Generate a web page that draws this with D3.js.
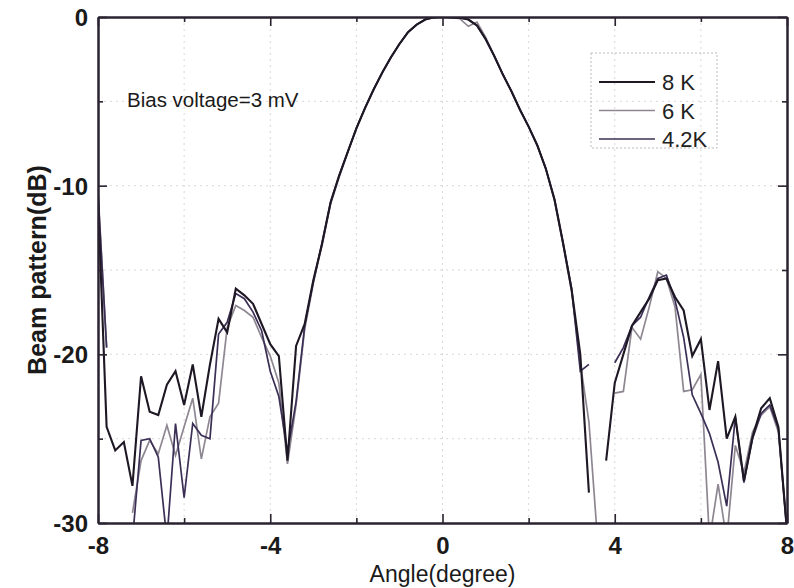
<!DOCTYPE html>
<html><head><meta charset="utf-8">
<script src="https://cdn.jsdelivr.net/npm/d3@7"></script>
<style>
html,body{margin:0;padding:0;background:#fff;}
svg{display:block;}
text{font-family:"Liberation Sans Narrow","Arial Narrow","Liberation Sans",Arial,sans-serif;}
</style></head>
<body><svg id="chart" width="794" height="588"></svg>
<script>
const angles = [-8.0,-7.8,-7.6,-7.4,-7.2,-7.0,-6.8,-6.6,-6.4,-6.2,
 -6.0,-5.8,-5.6,-5.4,-5.2,-5.0,-4.8,-4.6,-4.4,-4.2,
 -4.0,-3.8,-3.6,-3.4,-3.2,-3.0,-2.8,-2.6,-2.4,-2.2,
 -2.0,-1.8,-1.6,-1.4,-1.2,-1.0,-0.8,-0.6,-0.4,-0.2,
 0.0,0.2,0.4,0.6,0.8,1.0,1.2,1.4,1.6,1.8,
 2.0,2.2,2.4,2.6,2.8,3.0,3.2,3.4,3.6,3.8,
 4.0,4.2,4.4,4.6,4.8,5.0,5.2,5.4,5.6,5.8,
 6.0,6.2,6.4,6.6,6.8,7.0,7.2,7.4,7.6,7.8,
 8.0];

const k8 = [-10.8,-24.3,-25.7,-25.2,-27.8,-21.3,-23.4,-23.6,-21.8,-21.0,
 -23.0,-20.6,-23.7,-20.6,-17.9,-18.7,-16.1,-16.5,-17.0,-18.2,
 -19.4,-20.1,-26.3,-19.5,-18.2,-15.6,-13.5,-11.0,-9.4,-8.0,
 -6.6,-5.4,-4.3,-3.3,-2.4,-1.6,-0.9,-0.45,-0.15,-0.02,
 0,-0.02,-0.05,-0.15,-0.5,-1.3,-2.3,-3.4,-4.4,-5.5,
 -6.5,-7.6,-9.0,-10.8,-13.4,-16.2,-20.0,-28.2,null,-26.3,
 -21.7,-20.0,-18.3,-17.5,-16.7,-15.6,-15.5,-16.6,-17.4,-20.1,
 -19.1,-23.3,-20.4,-25.0,-23.7,-27.5,-24.9,-23.2,-22.6,-24.3,
 -30.5];

const k6 = [-10.3,-19.6,null,null,-29.4,-26.3,-25.1,-25.9,-24.2,-26.0,
 -24.3,-22.6,-26.2,-23.7,-22.9,-18.4,-17.1,-17.4,-17.8,-19.0,
 -20.1,-21.7,-26.5,-23.0,-18.5,-15.8,-13.5,-11.1,-9.5,-8.0,
 -6.6,-5.4,-4.3,-3.3,-2.4,-1.6,-0.9,-0.45,-0.15,-0.02,
 0,-0.02,-0.1,-0.55,-0.3,-1.2,-2.3,-3.4,-4.4,-5.5,
 -6.5,-7.6,-9.0,-10.9,-13.5,-16.3,-20.5,-24.0,-31,null,
 -22.3,-22.2,-18.4,-19.1,-17.2,-15.1,-15.5,-17.2,-22.2,-22.1,
 -21.2,-31,-27.7,-31,-25.4,-27.0,-24.6,-23.6,-23.1,-24.6,
 -30.5];

const k42 = [-10.5,-19.6,null,null,-31,-25.1,-25.0,-26.1,-31,-24.1,
 -28.5,-24.1,-24.8,-25.0,-18.8,-18.1,-16.4,-16.7,-17.5,-18.6,
 -21.0,-22.5,-25.8,-22.8,-18.3,-15.7,-13.4,-11.0,-9.4,-8.0,
 -6.6,-5.4,-4.3,-3.3,-2.4,-1.6,-0.9,-0.45,-0.15,-0.02,
 0,-0.02,-0.05,-0.15,-0.5,-1.3,-2.3,-3.4,-4.4,-5.5,
 -6.5,-7.6,-9.0,-10.8,-13.4,-16.1,-21.0,-20.6,null,null,
 -20.5,-19.6,-18.3,-17.8,-16.6,-15.5,-15.3,-16.8,-19.0,-22.4,
 -23.5,-24.7,-26.4,-29.0,-23.7,-27.6,-25.0,-23.5,-23.0,-24.4,
 -30.5];

const seriesNames = ["8 K", "6 K", "4.2K"];
const xTicks = [-8, -4, 0, 4, 8];
const xMinor = [-6, -2, 2, 6];
const yTicks = [0, -10, -20, -30];
const yMinor = [-5, -15, -25];

const svg = d3.select("#chart");
const L = 98, R = 787, T = 17, B = 523;
const x = d3.scaleLinear().domain([-8, 8]).range([L, R]);
const y = d3.scaleLinear().domain([-30, 0]).range([B, T]);
const frameColor = "#2a2230";

// grid
const grid = svg.append("g").attr("stroke", "#d8d8d8").attr("stroke-width", 1).attr("stroke-dasharray", "2,4");
xTicks.concat(xMinor).forEach(v => {
  if (v > -8 && v < 8) grid.append("line").attr("x1", x(v)).attr("x2", x(v)).attr("y1", T).attr("y2", B);
});
yTicks.concat(yMinor).forEach(v => {
  if (v > -30 && v < 0) grid.append("line").attr("x1", L).attr("x2", R).attr("y1", y(v)).attr("y2", y(v));
});

// clip
svg.append("defs").append("clipPath").attr("id", "clip")
  .append("rect").attr("x", L).attr("y", T).attr("width", R - L).attr("height", B - T);

const line = d3.line()
  .defined(d => d[1] !== null)
  .x(d => x(d[0])).y(d => y(d[1]));

const series = [
  {name: seriesNames[1], vals: k6, color: "#8e8792", w: 1.7},
  {name: seriesNames[2], vals: k42, color: "#3b2f55", w: 1.7},
  {name: seriesNames[0], vals: k8, color: "#1e1724", w: 2.1}
];
const plot = svg.append("g").attr("clip-path", "url(#clip)");
series.forEach(s => {
  plot.append("path")
    .datum(angles.map((a, i) => [a, s.vals[i]]))
    .attr("fill", "none").attr("stroke", s.color).attr("stroke-width", s.w)
    .attr("stroke-linejoin", "miter").attr("d", line);
});

// axes with inward ticks
const fontTick = 'bold 24px "Liberation Sans Narrow","Arial Narrow","Liberation Sans",Arial,sans-serif';
const fmt = d => String(d);
const axB = d3.axisBottom(x).tickValues(xTicks).tickSizeInner(-9).tickSizeOuter(0).tickFormat(fmt);
const axT = d3.axisTop(x).tickValues(xTicks).tickSizeInner(-9).tickSizeOuter(0).tickFormat("");
const axL = d3.axisLeft(y).tickValues(yTicks).tickSizeInner(-9).tickSizeOuter(0).tickFormat(fmt);
const axR = d3.axisRight(y).tickValues(yTicks).tickSizeInner(-9).tickSizeOuter(0).tickFormat("");
const mB = d3.axisBottom(x).tickValues(xMinor).tickSizeInner(-5).tickSizeOuter(0).tickFormat("");
const mT = d3.axisTop(x).tickValues(xMinor).tickSizeInner(-5).tickSizeOuter(0).tickFormat("");
const mL = d3.axisLeft(y).tickValues(yMinor).tickSizeInner(-5).tickSizeOuter(0).tickFormat("");
const mR = d3.axisRight(y).tickValues(yMinor).tickSizeInner(-5).tickSizeOuter(0).tickFormat("");

function styleAxis(g) {
  g.selectAll("path").attr("stroke", frameColor).attr("stroke-width", 2);
  g.selectAll("line").attr("stroke", frameColor).attr("stroke-width", 1.6);
  g.selectAll("text").style("font", fontTick).attr("fill", "#1a1a1a");
}
const gB = svg.append("g").attr("transform", `translate(0,${B})`).call(axB).call(styleAxis);
gB.selectAll("text").attr("dy", null).attr("y", 31);
svg.append("g").attr("transform", `translate(0,${B})`).call(mB).call(styleAxis);
svg.append("g").attr("transform", `translate(0,${T})`).call(axT).call(styleAxis);
svg.append("g").attr("transform", `translate(0,${T})`).call(mT).call(styleAxis);
const gL = svg.append("g").attr("transform", `translate(${L},0)`).call(axL).call(styleAxis);
gL.selectAll("text").attr("x", -10).attr("dy", "0.36em");
svg.append("g").attr("transform", `translate(${L},0)`).call(mL).call(styleAxis);
svg.append("g").attr("transform", `translate(${R},0)`).call(axR).call(styleAxis);
svg.append("g").attr("transform", `translate(${R},0)`).call(mR).call(styleAxis);
svg.selectAll(".domain").attr("stroke", frameColor).attr("stroke-width", 2);

// axis titles
svg.append("text").attr("x", (L + R) / 2).attr("y", 582).attr("text-anchor", "middle")
  .style("font-size", "23px").attr("fill", "#1a1a1a").text("Angle(degree)");
svg.append("text").attr("transform", `translate(46,${(T + B) / 2}) rotate(-90)`).attr("text-anchor", "middle")
  .style("font-size", "25px").style("font-weight", "bold").attr("fill", "#1a1a1a").text("Beam pattern(dB)");

// annotation
svg.append("text").attr("x", 127).attr("y", 107).style("font-size", "20.5px").attr("fill", "#1a1a1a")
  .text("Bias voltage=3 mV");

// legend
const lg = svg.append("g");
lg.append("rect").attr("x", 591).attr("y", 53).attr("width", 126).attr("height", 95)
  .attr("fill", "none").attr("stroke", "#bbb").attr("stroke-width", 1).attr("stroke-dasharray", "2,2");
const legendOrder = [
  {name: seriesNames[0], color: "#1e1724", w: 2.1},
  {name: seriesNames[1], color: "#8e8792", w: 1.7},
  {name: seriesNames[2], color: "#3b2f55", w: 1.7}
];
legendOrder.forEach((s, i) => {
  const yy = 82 + i * 28.5;
  lg.append("line").attr("x1", 599).attr("x2", 655).attr("y1", yy).attr("y2", yy)
    .attr("stroke", s.color).attr("stroke-width", s.w);
  lg.append("text").attr("x", 662).attr("y", yy + 8).style("font-size", "22px").attr("fill", "#222").text(s.name);
});
</script></body></html>
